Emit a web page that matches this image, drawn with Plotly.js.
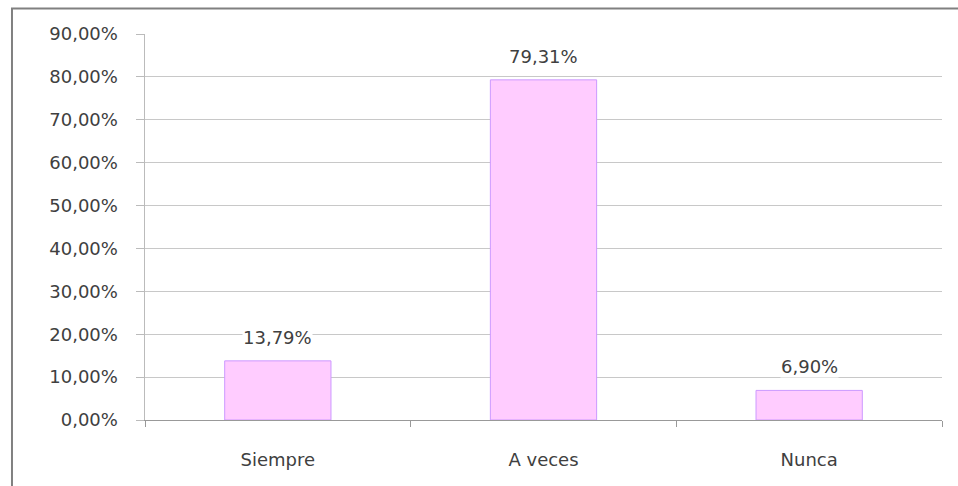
<!DOCTYPE html>
<html><head><meta charset="utf-8">
<script src="https://cdn.plot.ly/plotly-3.0.1.min.js"></script>
<style>html,body{margin:0;padding:0;background:#fff;}#chart{width:958px;height:486px;}</style>
</head><body><div id="chart"></div>
<script>
const categories = ["Siempre", "A veces", "Nunca"];
const values = [13.79, 79.31, 6.90];
const labels = ["13,79%", "79,31%", "6,90%"];
const yTicks = [0, 10, 20, 30, 40, 50, 60, 70, 80, 90];
const yTickLabels = ["0,00%", "10,00%", "20,00%", "30,00%", "40,00%", "50,00%", "60,00%", "70,00%", "80,00%", "90,00%"];

const font = {family: "'DejaVu Sans', Verdana, sans-serif", size: 18, color: "#404040"};
const annotations = categories.map((c, i) => ({
  x: c, y: values[i], xref: "x", yref: "y", text: labels[i],
  showarrow: false, yanchor: "bottom", yshift: 12, font: font,
  bgcolor: "#ffffff", borderpad: 0
}));
Plotly.newPlot("chart", [{
  type: "bar",
  x: categories,
  y: values,
  width: 0.4,
  marker: {color: "#FFCCFF", line: {color: "#CC99FF", width: 1}},
  hoverinfo: "skip"
}], {
  width: 958, height: 486,
  margin: {l: 145, r: 16, t: 34, b: 66},
  paper_bgcolor: "#fff", plot_bgcolor: "#fff",
  showlegend: false,
  font: font,
  annotations: annotations,
  xaxis: {
    type: "category", tickson: "boundaries", ticks: "outside", ticklen: 6, tickcolor: "#999",
    showline: true, linecolor: "#999", showgrid: false, tickfont: font,
    ticklabelstandoff: 23
  },
  yaxis: {
    range: [0, 90], tickvals: yTicks, ticktext: yTickLabels,
    ticks: "outside", ticklen: 8, tickcolor: "#bbb",
    showline: true, linecolor: "#bbb", linewidth: 1.5,
    gridcolor: "#c8c8c8", gridwidth: 1, zeroline: false, tickfont: font,
    ticklabelstandoff: 14
  },
  shapes: [{
    type: "rect", xref: "paper", yref: "paper",
    x0: -0.1669, x1: 1.03, y0: -0.3, y1: 1.066,
    line: {color: "#808080", width: 2}, fillcolor: "rgba(0,0,0,0)", layer: "below"
  }]
}, {displayModeBar: false, staticPlot: true});
</script></body></html>
